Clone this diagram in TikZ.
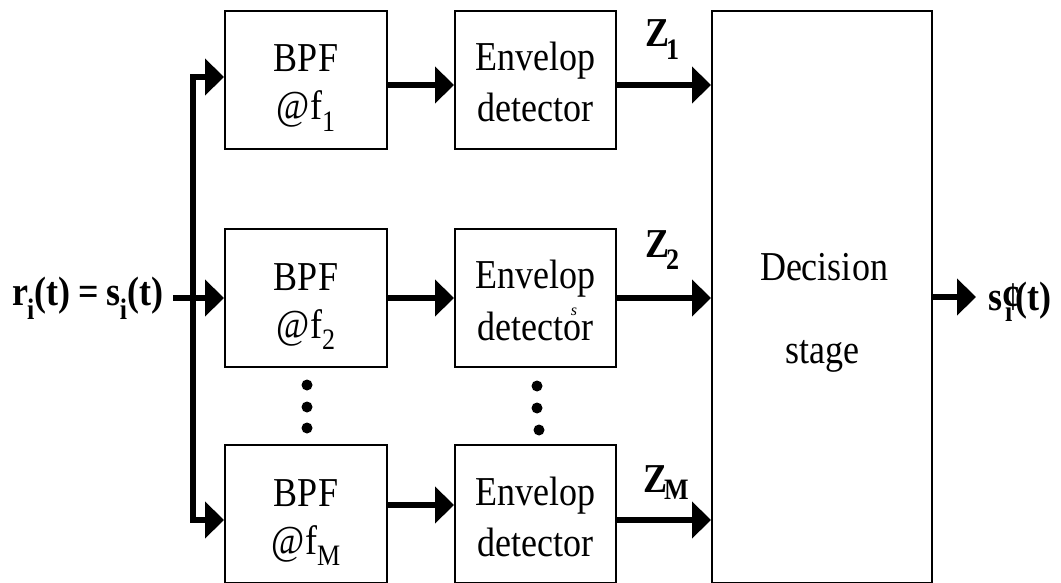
\documentclass[tikz,border=0pt]{standalone}
\usepackage{fontspec}
\setmainfont{Liberation Serif}
\usetikzlibrary{arrows.meta}
\newcommand{\dsub}[2]{\raisebox{-#1}{\fontsize{26}{26}\selectfont #2}}
\newcommand{\tx}[1]{\scalebox{1}[1.14]{#1}}
\begin{document}
\begin{tikzpicture}[x=1pt,y=-1pt,
  blk/.style={draw, line width=2pt, inner sep=0pt, minimum width=162pt, minimum height=138pt},
  lbl/.style={font=\fontsize{36}{40}\selectfont, anchor=base, inner sep=0pt},
  blbl/.style={lbl, anchor=base west, font=\fontsize{36}{40}\selectfont\bfseries},
  arr/.style={line width=5.5pt, -{Triangle[length=19pt,width=36pt]}},
  dot/.style={circle, fill, inner sep=0pt, minimum size=11pt}]
\useasboundingbox (0,0) rectangle (1061,583);
% blocks
\node[blk] (b1) at (306,80) {};
\node[blk] (b2) at (306,298) {};
\node[blk] (b3) at (306,514) {};
\node[blk, minimum width=161pt] (e1) at (535.5,80) {};
\node[blk, minimum width=161pt] (e2) at (535.5,298) {};
\node[blk, minimum width=161pt] (e3) at (535.5,514) {};
\node[blk, minimum width=220pt, minimum height=572pt] (d) at (822,297) {};
% texts
\node[lbl] (t1a) at (306,72) {\tx{BPF}};
\node[lbl] (t1b) at (306,120) {\tx{@f\dsub{10pt}{1}}};
\node[lbl] (t2a) at (306,290) {\tx{BPF}};
\node[lbl] (t2b) at (306,338) {\tx{@f\dsub{10pt}{2}}};
\node[lbl] (t3a) at (306,506) {\tx{BPF}};
\node[lbl] (t3b) at (306,554) {\tx{@f\dsub{10pt}{M}}};
\node[lbl] (u1a) at (535.5,71) {\tx{Envelop}};
\node[lbl] (u1b) at (535.5,122) {\tx{detector}};
\node[lbl] (u2a) at (535.5,288) {\tx{Envelop}};
\node[lbl] (u2b) at (535.5,340) {\tx{detector}};
\node[lbl] (u3a) at (535.5,505) {\tx{Envelop}};
\node[lbl] (u3b) at (535.5,556) {\tx{detector}};
\node[font=\itshape\fontsize{16}{16}\selectfont, inner sep=0pt] (ss) at (574,312) {s};
\node[lbl] (da) at (824,280) {\tx{Decision}};
\node[lbl] (db) at (822,363) {\tx{stage}};
% dots
\node[dot] (p1) at (307,385) {};
\node[dot] (p2) at (307,407) {};
\node[dot] (p3) at (307,428) {};
\node[dot] (q1) at (537,386) {};
\node[dot] (q2) at (537,408) {};
\node[dot] (q3) at (539,430) {};
% input label and bus
\node[blbl] (inl) at (12,305)
  {\tx{r\kern-1pt\dsub{13pt}{i}(t)\kern-1pt{} = \kern-1pt{}s\kern-1pt\dsub{13pt}{i}(t)}};
\coordinate (in) at (173,298);
\coordinate (j) at (193,298);
\coordinate (bus1) at (193,77);
\coordinate (bus3) at (193,520);
\draw[arr] (in) -- (in -| b2.west);
\draw[arr] (j) |- (bus1 -| b1.west);
\draw[arr] (j) |- (bus3 -| b3.west);
% filter to detector
\draw[arr] ([yshift=-5pt]b1.east) -- ([yshift=-5pt]e1.west);
\draw[arr] (b2.east) -- (e2.west);
\draw[arr] ([yshift=9pt]b3.east) -- ([yshift=9pt]e3.west);
% detector to decision
\draw[arr] ([yshift=-5pt]e1.east) -- ([yshift=-5pt]e1.east -| d.west);
\draw[arr] (e2.east) -- (e2.east -| d.west);
\draw[arr] ([yshift=-6pt]e3.east) -- ([yshift=-6pt]e3.east -| d.west);
% Z labels
\node[blbl] (z1) at (645,47) {\tx{Z\kern-3pt\dsub{11pt}{1}}};
\node[blbl] (z2) at (645,258) {\tx{Z\kern-3pt\dsub{10pt}{2}}};
\node[blbl] (z3) at (643,492) {\tx{Z\kern-3pt\dsub{7pt}{M}}};
% output
\coordinate (out) at (976,297);
\draw[arr] (d.east |- out) -- (out);
\node[blbl] (outl) at (988,310)
  {\tx{s¢\kern-15pt\dsub{10pt}{i}\kern3pt(t)}};
\end{tikzpicture}
\end{document}
